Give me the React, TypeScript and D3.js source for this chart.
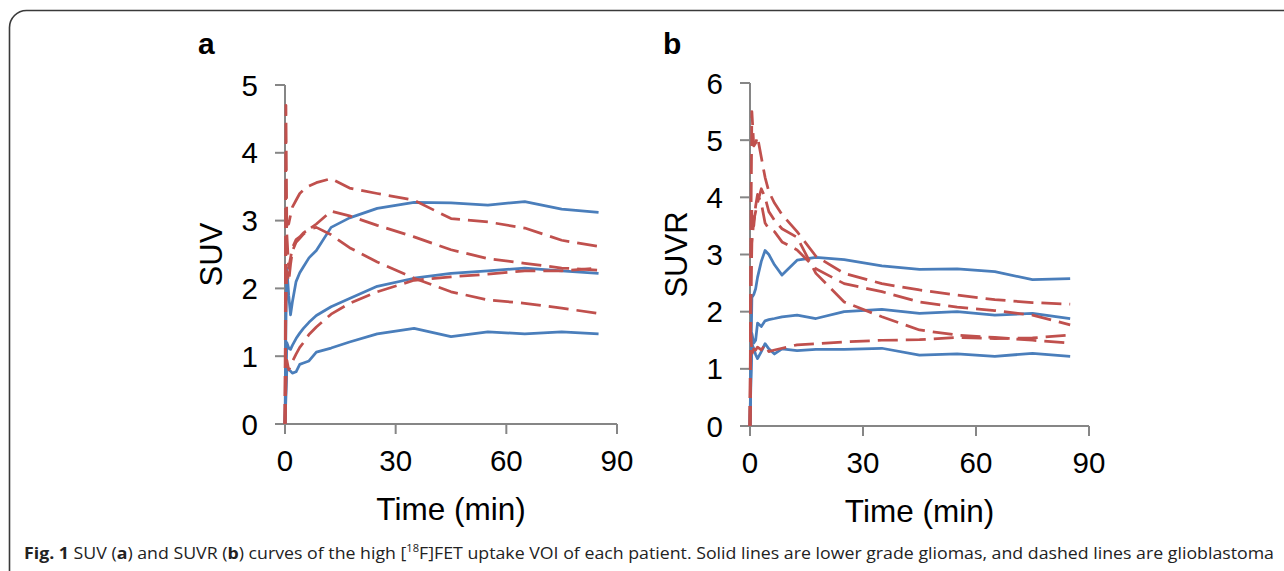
import React from "react";
import * as d3 from "d3";

// ---- data ----
const TIME = [0, 0.25, 0.5, 1, 1.5, 2, 3, 4, 5, 6.5, 8.5, 12.5, 17.5, 25, 35, 45, 55, 65, 75, 85];

const X_TICKS = [0, 30, 60, 90];
const SUV_TICKS = [0, 1, 2, 3, 4, 5];
const SUVR_TICKS = [0, 1, 2, 3, 4, 5, 6];

// Panel a: SUV, lower grade gliomas (solid)
const SUV_LGG_1 = [0, 1.5, 2.3, 1.9, 1.61, 1.8, 2.1, 2.23, 2.32, 2.45, 2.56, 2.9, 3.04, 3.18, 3.27, 3.26, 3.23, 3.28, 3.17, 3.12];
const SUV_LGG_2 = [0, 0.6, 1.2, 1.12, 1.1, 1.16, 1.26, 1.34, 1.41, 1.5, 1.6, 1.73, 1.85, 2.03, 2.15, 2.22, 2.26, 2.3, 2.26, 2.22];
const SUV_LGG_3 = [0, 0.4, 0.82, 0.8, 0.78, 0.75, 0.77, 0.88, 0.9, 0.93, 1.06, 1.12, 1.21, 1.33, 1.41, 1.29, 1.36, 1.33, 1.36, 1.33];
// Panel a: SUV, glioblastomas (dashed)
const SUV_GBM_1 = [0, 2.6, 3.0, 2.95, 3.08, 3.2, 3.3, 3.4, 3.45, 3.51, 3.56, 3.62, 3.48, 3.4, 3.3, 3.03, 2.98, 2.89, 2.71, 2.62];
const SUV_GBM_2 = [0, 1.8, 2.25, 2.1, 2.35, 2.55, 2.68, 2.74, 2.8, 2.87, 2.95, 3.14, 3.07, 2.93, 2.76, 2.57, 2.44, 2.37, 2.3, 2.27];
const SUV_GBM_3 = [0, 4.7, 2.8, 2.3, 2.45, 2.6, 2.72, 2.76, 2.82, 2.87, 2.9, 2.79, 2.6, 2.39, 2.15, 1.95, 1.83, 1.78, 1.71, 1.63];
const SUV_GBM_4 = [0, 0.6, 0.94, 0.8, 0.85, 0.92, 1.03, 1.13, 1.2, 1.32, 1.43, 1.62, 1.78, 1.95, 2.12, 2.17, 2.21, 2.26, 2.26, 2.3];

// Panel b: SUVR, lower grade gliomas (solid)
const SUVR_LGG_1 = [0, 1.2, 2.25, 2.3, 2.4, 2.6, 2.88, 3.07, 3.0, 2.82, 2.64, 2.9, 2.95, 2.91, 2.8, 2.74, 2.75, 2.7, 2.56, 2.58];
const SUVR_LGG_2 = [0, 1.0, 1.62, 1.45, 1.5, 1.8, 1.74, 1.84, 1.86, 1.88, 1.91, 1.94, 1.88, 2.0, 2.04, 1.97, 2.0, 1.94, 1.97, 1.88];
const SUVR_LGG_3 = [0, 0.8, 1.44, 1.35, 1.25, 1.18, 1.3, 1.44, 1.35, 1.26, 1.35, 1.32, 1.34, 1.34, 1.36, 1.24, 1.26, 1.22, 1.27, 1.22];
// Panel b: SUVR, glioblastomas (dashed)
const SUVR_GBM_1 = [0, 3.5, 5.5, 4.9, 4.95, 5.06, 4.7, 4.35, 4.1, 3.9, 3.7, 3.4, 2.97, 2.67, 2.49, 2.38, 2.29, 2.21, 2.16, 2.13];
const SUVR_GBM_2 = [0, 2.8, 3.8, 3.5, 3.85, 4.05, 3.9, 3.55, 3.45, 3.4, 3.22, 3.08, 2.75, 2.49, 2.35, 2.17, 2.08, 2.02, 1.94, 1.77];
const SUVR_GBM_3 = [0, 2.2, 3.2, 3.6, 3.75, 3.9, 4.15, 4.0, 3.75, 3.6, 3.45, 3.3, 2.67, 2.17, 1.91, 1.68, 1.59, 1.55, 1.5, 1.45];
const SUVR_GBM_4 = [0, 1.6, 1.25, 1.35, 1.33, 1.38, 1.33, 1.42, 1.3, 1.33, 1.36, 1.42, 1.44, 1.47, 1.5, 1.51, 1.55, 1.53, 1.54, 1.59];

// ---- styles ----
const BLUE = "#4A7EBB";
const RED = "#C0504D";
const AXIS = "#868686";
const FONT = "'Liberation Sans', Arial, Helvetica, sans-serif";

type PanelProps = {
  label: string;
  yLabel: string;
  yTicks: number[];
  yMax: number;
  solid: number[][];
  dashed: number[][];
  x0: number;
  x1: number;
  yTop: number;
  yBottom: number;
};

function Panel(p: PanelProps) {
  const x = d3.scaleLinear().domain([0, 90]).range([p.x0, p.x1]);
  const y = d3.scaleLinear().domain([0, p.yMax]).range([p.yBottom, p.yTop]);
  const line = d3
    .line<number>()
    .x((_, i) => x(TIME[i]))
    .y((v) => y(v));
  const cx = (p.x0 + p.x1) / 2;
  const cy = (p.yTop + p.yBottom) / 2;
  return (
    <g>
      <text x={p.x0 - 87} y={54} fontFamily={FONT} fontWeight="bold" fontSize={30} fill="#000">
        {p.label}
      </text>
      {/* axes */}
      <line x1={p.x0} x2={p.x0} y1={y(p.yMax)} y2={p.yBottom} stroke={AXIS} strokeWidth={2} />
      <line x1={p.x0} x2={x(90)} y1={p.yBottom} y2={p.yBottom} stroke={AXIS} strokeWidth={2} />
      {p.yTicks.map((t) => (
        <g key={"y" + t}>
          <line x1={p.x0 - 10} x2={p.x0} y1={y(t)} y2={y(t)} stroke={AXIS} strokeWidth={2} />
          <text
            x={p.x0 - 27}
            y={y(t)}
            dy="0.36em"
            textAnchor="end"
            fontFamily={FONT}
            fontSize={29.5}
            fill="#000"
          >
            {t}
          </text>
        </g>
      ))}
      {X_TICKS.map((t) => (
        <g key={"x" + t}>
          <line x1={x(t)} x2={x(t)} y1={p.yBottom} y2={p.yBottom + 10} stroke={AXIS} strokeWidth={2} />
          <text x={x(t)} y={p.yBottom + 47} textAnchor="middle" fontFamily={FONT} fontSize={29.5} fill="#000">
            {t}
          </text>
        </g>
      ))}
      <text x={cx} y={p.yBottom + 96} textAnchor="middle" fontFamily={FONT} fontSize={31.5} fill="#000">
        Time (min)
      </text>
      <text
        transform={`translate(${p.x0 - 63},${cy}) rotate(-90)`}
        textAnchor="middle"
        fontFamily={FONT}
        fontSize={31}
        fill="#000"
      >
        {p.yLabel}
      </text>
      {/* curves */}
      {p.solid.map((s, i) => (
        <path key={"s" + i} d={line(s) || ""} fill="none" stroke={BLUE} strokeWidth={2.75} strokeLinejoin="round" />
      ))}
      {p.dashed.map((s, i) => (
        <path
          key={"d" + i}
          d={line(s) || ""}
          fill="none"
          stroke={RED}
          strokeWidth={2.75}
          strokeDasharray="20,8"
          strokeLinejoin="round"
        />
      ))}
    </g>
  );
}

export default function App() {
  return (
    <div style={{ position: "fixed", left: 0, top: 0 }}>
      <svg width={1284} height={571} style={{ display: "block", background: "#fff" }}>
        <rect x={0} y={0} width={1284} height={571} fill="#fff" />
        <rect x={9.5} y={10.5} width={1400} height={700} rx={17} ry={17} fill="none" stroke="#3a3a3a" strokeWidth={1.6} />
        <Panel
          label="a"
          yLabel="SUV"
          yTicks={SUV_TICKS}
          yMax={5}
          solid={[SUV_LGG_1, SUV_LGG_2, SUV_LGG_3]}
          dashed={[SUV_GBM_1, SUV_GBM_2, SUV_GBM_3, SUV_GBM_4]}
          x0={285}
          x1={617}
          yTop={85}
          yBottom={424}
        />
        <Panel
          label="b"
          yLabel="SUVR"
          yTicks={SUVR_TICKS}
          yMax={6}
          solid={[SUVR_LGG_1, SUVR_LGG_2, SUVR_LGG_3]}
          dashed={[SUVR_GBM_1, SUVR_GBM_2, SUVR_GBM_3, SUVR_GBM_4]}
          x0={750}
          x1={1089}
          yTop={83}
          yBottom={426}
        />
        <text
          x={24}
          y={559}
          fontFamily="'Open Sans', 'Noto Sans', sans-serif"
          fontSize={16.8}
          fill="#222"
          textLength={1250}
          lengthAdjust="spacingAndGlyphs"
        >
          <tspan fontWeight="bold">Fig. 1</tspan>
          {" SUV ("}
          <tspan fontWeight="bold">a</tspan>
          {") and SUVR ("}
          <tspan fontWeight="bold">b</tspan>
          {") curves of the high ["}
          <tspan fontSize={10.5} dy={-7}>18</tspan>
          <tspan dy={7}>
            {"F]FET uptake VOI of each patient. Solid lines are lower grade gliomas, and dashed lines are glioblastoma"}
          </tspan>
        </text>
      </svg>
    </div>
  );
}
